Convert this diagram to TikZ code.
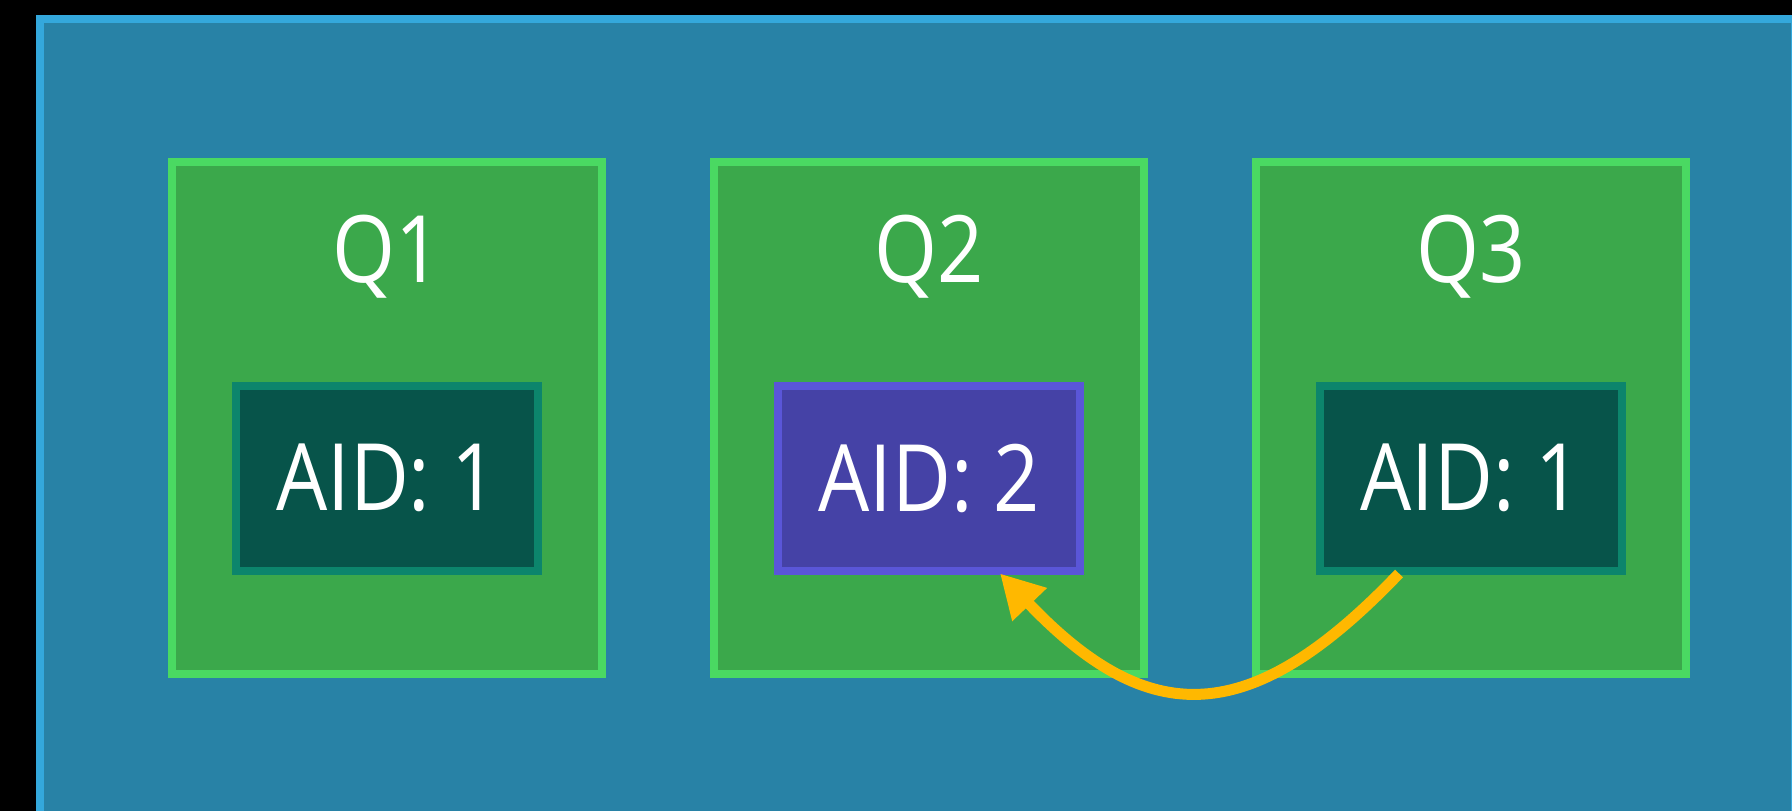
\documentclass[tikz,border=0pt]{standalone}
\usepackage{fontspec}
\newfontfamily\diagfont[FakeStretch=0.87]{Open Sans}
\usepackage{tikz}
\usetikzlibrary{arrows.meta}
\usetikzlibrary{positioning}
\definecolor{frameblue}{HTML}{2882A6}
\definecolor{frameedge}{HTML}{34A8DC}
\definecolor{queuegreen}{HTML}{3BA84B}
\definecolor{queueedge}{HTML}{4AD962}
\definecolor{aidteal}{HTML}{07544A}
\definecolor{aidedge}{HTML}{0C856C}
\definecolor{movedpurple}{HTML}{4542A6}
\definecolor{movededge}{HTML}{5A56D8}
\definecolor{arrowyellow}{HTML}{FFB800}
\tikzset{outer-frame/.style={draw=frameedge, line width=7.5pt, fill=frameblue}}
\tikzset{queue-box/.style={draw=queueedge, line width=8pt, fill=queuegreen, inner sep=0, outer sep=0, minimum width=430pt, minimum height=512pt}}
\tikzset{queue-label/.style={text=white, inner sep=0, anchor=base, font=\diagfont\fontsize{93}{110}\selectfont}}
\tikzset{aid-node/.style={draw=aidedge, line width=8pt, fill=aidteal, inner sep=0, outer sep=0, minimum width=302pt, minimum height=185pt, text=white, font=\diagfont\fontsize{93}{110}\selectfont}}
\tikzset{aid-moved/.style={aid-node, draw=movededge, fill=movedpurple}}
\tikzset{move-line/.style={draw=arrowyellow, line width=11pt}}

\begin{document}
\begin{tikzpicture}[x=1pt, y=-1pt]
            \useasboundingbox (0,0) rectangle (1792,811);
            \fill[black] (0,0) rectangle (1792,811);
            \clip (0,0) rectangle (1792,811);
            \path[outer-frame] (40,19) rectangle (1795,830);

            \node[queue-box] (q1) at (387,418) {};
            \node[queue-box, right=112pt of q1] (q2) {};
            \node[queue-box, right=112pt of q2] (q3) {};

            \node[queue-label] (q1label) at ([yshift=-120pt]q1.north) {Q1};
            \node[queue-label] (q2label) at ([yshift=-120pt]q2.north) {Q2};
            \node[queue-label] (q3label) at ([yshift=-120pt]q3.north) {Q3};

            \node[aid-node] (aid1) at ([yshift=-60pt]q1.center) {AID: 1};
            \node[aid-moved] (aid2) at ([yshift=-60pt]q2.center) {AID: 2};
            \node[aid-node] (aid3) at ([yshift=-60pt]q3.center) {AID: 1};

            \coordinate (movefrom) at ([xshift=-72pt, yshift=-3pt]aid3.south);
            \coordinate (moveto) at ([xshift=71pt, yshift=-3pt]aid2.south);

            \draw[move-line, -{Triangle[length=43pt, width=45pt]}] (movefrom)
                .. controls ([xshift=-149pt, yshift=-156pt] movefrom) and ([xshift=149pt, yshift=-156pt] moveto) ..
                (moveto);

        \end{tikzpicture}
\end{document}
